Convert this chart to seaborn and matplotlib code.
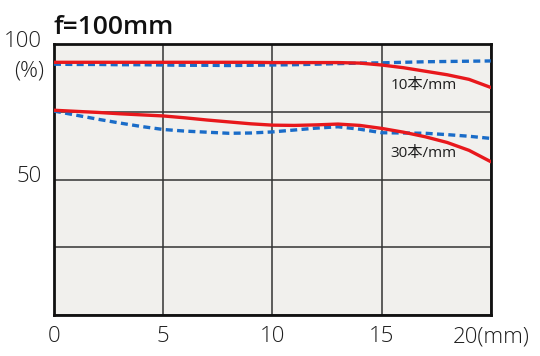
import matplotlib
matplotlib.use("Agg")
import matplotlib.pyplot as plt
import matplotlib.transforms as mtransforms
import pandas as pd
import seaborn as sns

# image height (mm) vs contrast (%) at f=100mm
image_height = list(range(0, 21))
sagittal_10 = [93.3, 93.3, 93.3, 93.3, 93.3, 93.3, 93.3, 93.3, 93.3, 93.3, 93.2,
               93.2, 93.2, 93.2, 93.0, 92.3, 91.3, 90.0, 88.7, 87.0, 84.0]
meridional_10 = [92.6, 92.5, 92.5, 92.4, 92.4, 92.3, 92.2, 92.2, 92.1, 92.2, 92.3,
                 92.4, 92.6, 92.8, 93.0, 93.1, 93.3, 93.5, 93.6, 93.7, 93.8]
sagittal_30 = [75.6, 75.2, 74.8, 74.3, 73.9, 73.5, 72.8, 72.0, 71.3, 70.6, 70.1,
               70.0, 70.2, 70.5, 70.0, 68.9, 67.5, 65.8, 63.7, 60.8, 56.6]
meridional_30 = [75.3, 73.8, 72.3, 70.9, 69.6, 68.5, 67.9, 67.5, 67.1, 67.2, 67.6,
                 68.3, 69.0, 69.5, 68.6, 67.3, 67.2, 67.1, 66.6, 66.0, 65.2]

x_ticks = [0, 5, 10, 15, 20]
x_tick_labels = ["0", "5", "10", "15", "20(mm)"]
y_ticks = [0, 25, 50, 75, 100]
y_tick_labels = ["", "", "50", "", "100"]

RED = "#e8181c"
BLUE = "#1a6cc8"
TEXT = "#1e1e1e"

sns.set_theme(style="white")
plt.rcParams["font.family"] = ["Open Sans", "Noto Sans CJK JP", "DejaVu Sans"]

fig = plt.figure(figsize=(5.4, 3.56), dpi=100)
ax = fig.add_axes([0.1, 0.115, 0.809, 0.761])
ax.set_facecolor("#f1f0ed")

df = pd.DataFrame({
    "x": image_height * 4,
    "y": sagittal_10 + meridional_10 + sagittal_30 + meridional_30,
    "curve": ["s10"] * 21 + ["m10"] * 21 + ["s30"] * 21 + ["m30"] * 21,
})

for name, color, dashed in [("m10", BLUE, True), ("m30", BLUE, True),
                            ("s10", RED, False), ("s30", RED, False)]:
    sub = df[df["curve"] == name]
    sns.lineplot(data=sub, x="x", y="y", ax=ax, color=color, lw=2.4,
                 legend=False, zorder=3)
    if dashed:
        ax.lines[-1].set_dashes((2.1, 1.3))

ax.set_xlim(0, 20)
ax.set_ylim(0, 100)
ax.set_xticks(x_ticks)
ax.set_xticklabels(x_tick_labels, fontweight="light")
ax.set_yticks(y_ticks)
ax.set_yticklabels(y_tick_labels, fontweight="light")
ax.tick_params(length=0, labelsize=16, colors=TEXT)
ax.tick_params(axis="x", pad=8)
ax.tick_params(axis="y", pad=9)
# nudge y labels up a little, as in the original
shift = mtransforms.ScaledTranslation(0, 4 / 72, fig.dpi_scale_trans)
for lbl in ax.get_yticklabels():
    lbl.set_transform(lbl.get_transform() + shift)
ax.set_xlabel("")
ax.set_ylabel("")
ax.grid(True, color="#333333", lw=1.1)
for spine in ax.spines.values():
    spine.set_color("#111111")
    spine.set_linewidth(2.0)

ax.text(15.4, 84.9, "10本/mm", fontsize=11, va="center", ha="left", color=TEXT)
ax.text(15.4, 59.8, "30本/mm", fontsize=11, va="center", ha="left", color=TEXT)

fig.text(0.081, 0.80, "(%)", fontsize=16, ha="right", va="center", color=TEXT,
         fontweight="light")
fig.text(0.1, 0.905, "f=100mm", fontsize=19, fontweight="semibold", ha="left",
         va="baseline", color="#111111")

fig.savefig("out.png", dpi=100)
